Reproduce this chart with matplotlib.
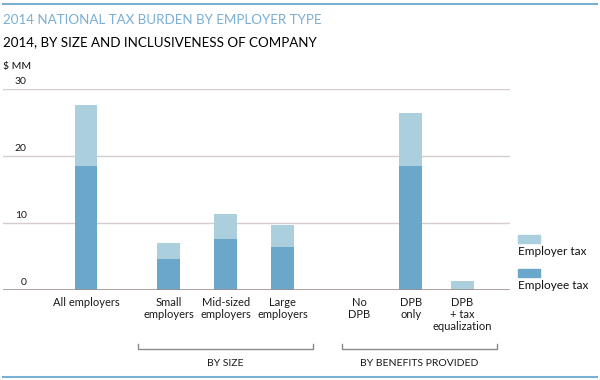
import numpy as np
import matplotlib
matplotlib.use("Agg")
import matplotlib.pyplot as plt
from matplotlib.lines import Line2D
from matplotlib.patches import Rectangle

plt.rcParams['font.family'] = ['Lato', 'DejaVu Sans']

# data ($ MM)
categories = ['All employers', 'Small\nemployers', 'Mid-sized\nemployers', 'Large\nemployers',
              'No\nDPB', 'DPB\nonly', 'DPB\n+ tax\nequalization']
employee_tax = [18.6, 4.7, 7.6, 6.4, 0.0, 18.6, 0.0]
employer_tax = [9.1, 2.4, 3.7, 3.3, 0.0, 7.9, 1.4]
yticks = [0, 10, 20, 30]
groups = ['BY SIZE', 'BY BENEFITS PROVIDED']

# colours
dark = '#6ba7cb'
light = '#accfdd'
rule = '#7ab0d5'

W, H = 600, 380
fig = plt.figure(figsize=(6, 3.8), dpi=100)

def fx(x):
    return x / W

def fy(y):
    return 1 - y / H

# axes: x from px 3 to 510, y zero at px 290, 30 at px 89.3
ax = fig.add_axes([fx(3), fy(290), fx(507), (290 - 89.3) / H])
pos = np.array([0, 1.45, 2.45, 3.45, 4.8, 5.7, 6.6])
ax.set_xlim(-1.456, 7.44)
ax.set_ylim(0, 30)

for v in yticks[1:]:
    ax.axhline(v, color='#d6cccc', lw=1, zorder=0)
ax.axhline(0, color='#9e9191', lw=1.2, zorder=3)

ax.bar(pos, employee_tax, width=0.4, color=dark, zorder=2)
ax.bar(pos, employer_tax, width=0.4, bottom=employee_tax, color=light, zorder=2)

for s in ax.spines.values():
    s.set_visible(False)
ax.set_yticks([])
ax.set_xticks(pos, categories)
ax.tick_params(axis='x', length=0, pad=5, labelsize=8, labelcolor='#1a1a1a')
for lab in ax.get_xticklabels():
    lab.set_linespacing(1.1)
    lab.set_verticalalignment('top')

for v in yticks:
    ax.annotate(str(v), (0.047, v), xycoords=('axes fraction', 'data'),
                xytext=(0, 2.5), textcoords='offset points',
                ha='right', va='bottom', fontsize=7.5, color='#1a1a1a')

# titles
fig.add_artist(Line2D([fx(3), fx(597)], [fy(4), fy(4)], color=rule, lw=1.5))
fig.text(fx(3), fy(20), '2014 NATIONAL TAX BURDEN BY EMPLOYER TYPE',
         color='#7aaed4', fontsize=9.6, va='center', ha='left')
fig.text(fx(3), fy(42), '2014, BY SIZE AND INCLUSIVENESS OF COMPANY',
         color='#000000', fontsize=9.6, va='center', ha='left')
fig.text(fx(3), fy(66), '$ MM', color='#111111', fontsize=7.5, va='center', ha='left')

# group brackets
brackets = [(138, 313), (341.7, 496.7)]
for (x0, x1), name in zip(brackets, groups):
    fig.add_artist(Line2D([fx(x0), fx(x0), fx(x1), fx(x1)],
                          [fy(344), fy(348.5), fy(348.5), fy(344)],
                          color='#8a8a8a', lw=1))
    fig.text(fx((x0 + x1) / 2), fy(364), name, fontsize=7.5,
             ha='center', va='center', color='#1a1a1a')

fig.add_artist(Line2D([fx(3), fx(597)], [fy(377), fy(377)], color=rule, lw=1.5))

# legend
for (y0, col, name) in [(235, light, 'Employer tax'), (269, dark, 'Employee tax')]:
    fig.add_artist(Rectangle((fx(518), fy(y0 + 8.3)), fx(22), 8.3 / H, color=col))
    fig.text(fx(518), fy(y0 + 16.5), name, fontsize=8.5, ha='left', va='center', color='#111111')

fig.savefig('out.png', dpi=100)
